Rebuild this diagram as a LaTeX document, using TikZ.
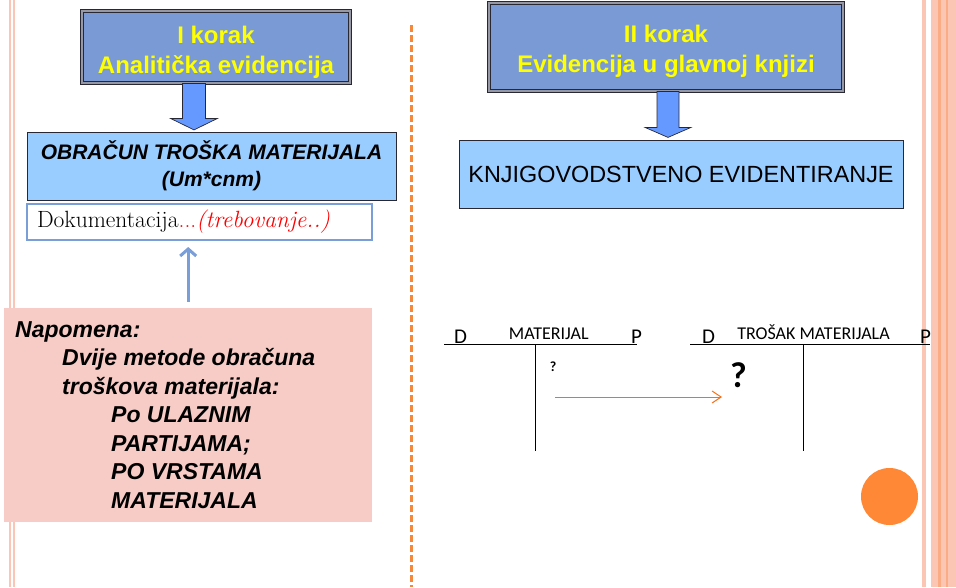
\documentclass[tikz,border=0pt]{standalone}
\usepackage{fontspec}
\newfontfamily\arialfont{Liberation Sans}
\newfontfamily\calibrifont{Carlito}
\usetikzlibrary{arrows.meta,positioning,calc}

\definecolor{korakblue}{RGB}{122,154,214}
\definecolor{korakedge}{RGB}{40,40,52}
\definecolor{korakgap}{RGB}{150,152,165}
\definecolor{arrowblue}{RGB}{102,153,255}
\definecolor{lightblue}{RGB}{153,204,255}
\definecolor{dokedge}{RGB}{122,158,216}
\definecolor{notepink}{RGB}{247,204,198}
\definecolor{stripepink}{RGB}{251,199,180}
\definecolor{stripedark}{RGB}{250,172,132}
\definecolor{sepor}{RGB}{244,136,60}
\definecolor{transor}{RGB}{250,110,20}
\definecolor{circor}{RGB}{254,136,54}

\begin{document}
\begin{tikzpicture}[x=1pt,y=-1pt,
  korakbox/.style={rectangle,draw=korakedge,line width=0.8pt,double=korakgap,
    double distance=1.6pt,fill=korakblue},
  koraktext/.style={text={rgb,255:red,255;green,255;blue,0},align=center,
    font=\arialfont\bfseries\fontsize{24}{30}\selectfont},
  bluebox/.style={rectangle,draw=korakedge,line width=0.8pt,fill=lightblue},
  blockarrow/.style={draw=korakedge,line width=0.7pt,fill=arrowblue},
  tlabel/.style={inner sep=0pt,font=\calibrifont\fontsize{18}{20}\selectfont},
  tside/.style={inner sep=0pt,font=\calibrifont\fontsize{21}{24}\selectfont},
  tline/.style={line width=1pt,black}]

  \useasboundingbox (0,0) rectangle (956,587);

  % side stripes
  \fill[stripepink] (9,0) rectangle (11,587);
  \fill[stripepink] (13,0) rectangle (15,587);
  \fill[stripepink] (922,0) rectangle (925.5,587);
  \fill[stripepink] (931,0) rectangle (956,587);
  \fill[stripedark] (938,0) rectangle (940.7,587);
  \fill[stripedark] (946,0) rectangle (948,587);

  % separator
  \draw[sepor,line width=3.5pt,dash pattern=on 7pt off 3pt] (411.5,25) -- (411.5,587);

  % I korak
  \node[korakbox,minimum width=268,minimum height=72] (korak1) at (216,47) {};
  \node[koraktext] (korak1txt) at ([yshift=-5pt]korak1.center)
  {I korak\\Analiti\v{c}ka evidencija};
  \node[bluebox,minimum width=369,minimum height=68,align=center,
    font=\arialfont\bfseries\itshape\fontsize{21}{27}\selectfont] (obracun) at (211.5,166)
  {OBRA\v{C}UN TRO\v{S}KA MATERIJALA\\(Um*cnm)};
  \draw[blockarrow] ([xshift=-33.5pt]korak1.south) -- ++(0,35) -- ++(-12,0)
  -- ++(23.5,11.5) -- ++(23.5,-11.5) -- ++(-12,0) -- ++(0,-35) -- cycle;
  \node[rectangle,draw=dokedge,line width=2pt,fill=white,minimum height=36,
    inner xsep=10pt,text width=325pt,align=left,font=\fontsize{23.5}{25}\selectfont]
  (dok) at (199.5,222) {Dokumentacija{\color{red}...\itshape(trebovanje..)}};

  % napomena
  \node[rectangle,fill=notepink,minimum width=368,minimum height=214,anchor=north west]
  (napomena) at (4,308) {};
  \node[inner sep=0pt,anchor=north west,align=left,
    font=\arialfont\bfseries\itshape\fontsize{23}{28.5}\selectfont]
  (napomenatxt) at ([xshift=11pt,yshift=-13pt]napomena.north west)
  {Napomena:\\
   \hspace*{47pt}Dvije metode obra\v{c}una\\
   \hspace*{47pt}tro\v{s}kova materijala:\\
   \hspace*{96pt}Po ULAZNIM\\
   \hspace*{96pt}PARTIJAMA;\\
   \hspace*{96pt}PO VRSTAMA\\
   \hspace*{96pt}MATERIJALA};
  \draw[dokedge,line width=3pt,-{Straight Barb[length=7pt,width=16pt]},shorten >=6pt]
  ([yshift=6pt]napomena.north) -- (napomena.north |- dok.south);

  % II korak
  \node[korakbox,minimum width=354,minimum height=88] (korak2) at (666,47) {};
  \node[koraktext] (korak2txt) at ([yshift=-4pt]korak2.center)
  {II korak\\Evidencija u glavnoj knjizi};
  \node[bluebox,minimum width=444,minimum height=68,
    font=\arialfont\fontsize{23.4}{27}\selectfont] (knjig) at (681,174)
  {KNJIGOVODSTVENO EVIDENTIRANJE};
  \draw[blockarrow] ([xshift=-9pt]korak2.south) -- ++(0,36) -- ++(-12,0)
  -- ++(23,10) -- ++(23,-10) -- ++(-12,0) -- ++(0,-36) -- cycle;

  % T accounts
  \draw[tline] (444,344) -- (637,344);
  \draw[tline] (535,344) -- (535,451);
  \draw[tline] (690,344) -- (930,344);
  \draw[tline] (803,344) -- (803,451);
  \node[tside,anchor=base west] (d1) at (454,343) {D};
  \node[tlabel,anchor=base] (mat) at (548.8,339) {MATERIJAL};
  \node[tside,anchor=base west] (p1) at (631,343) {P};
  \node[tside,anchor=base west] (d2) at (702,343) {D};
  \node[tlabel,anchor=base] (trosak) at (813.5,339) {TRO\v{S}AK MATERIJALA};
  \node[tside,anchor=base west] (p2) at (920,343) {P};
  \node[inner sep=0pt,font=\calibrifont\bfseries\fontsize{14}{16}\selectfont] (qsmall) at (553,367) {?};
  \node[inner sep=0pt,font=\calibrifont\bfseries\fontsize{36}{40}\selectfont] (qbig) at (738.5,375.5) {?};
  \coordinate (transfrom) at (555,397);
  \coordinate (transto) at (722,397);
  \draw[transor,line width=1pt,-{Straight Barb[length=9pt,width=12pt]}] (transfrom) -- (transto);

  % circle
  \fill[circor] (889.5,496.5) circle[radius=28.5pt];
\end{tikzpicture}
\end{document}
